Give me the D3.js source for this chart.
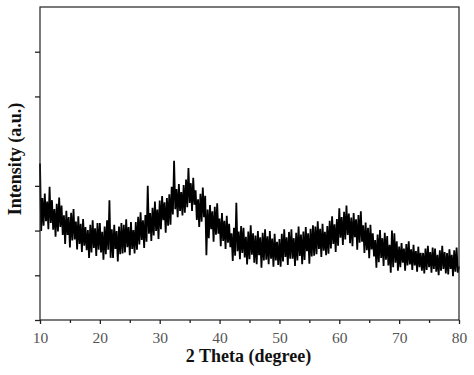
<!DOCTYPE html>
<html>
<head>
<meta charset="utf-8">
<script src="https://cdn.jsdelivr.net/npm/d3@7"></script>
<style>
  body { margin: 0; background: #fff; }
  svg { display: block; }
  .tick-lab { font-family: "Liberation Serif", "Times New Roman", serif; font-size: 15.5px; fill: #555; }
  .ttl { font-family: "Liberation Serif", "Times New Roman", serif; font-size: 18px; font-weight: bold; fill: #111; }
</style>
</head>
<body>
<div id="chart"></div>
<script>
// xrd pattern, 2theta 10 -> 80, sampled every 0.2 deg

var startAngle = 10;
var stepAngle = 0.2;

// intensity, 10 points per 2 degrees
var intensity = [
  350, 199, 273, 211, 283, 221, 265, 203, 298, 217,   // 10-12
  268, 202, 248, 186, 260, 198, 274, 208, 256, 190,   // 12-14
  234, 170, 244, 190, 230, 162, 240, 178, 248, 180,   // 14-16
  220, 158, 232, 170, 215, 152, 226, 166, 208, 156,   // 16-18
  201, 139, 213, 151, 223, 161, 205, 143, 217, 157,   // 18-20
  217, 151, 197, 135, 209, 147, 223, 157, 268, 139,   // 20-22
  203, 139, 213, 159, 199, 131, 209, 147, 217, 149,   // 22-24
  213, 151, 225, 163, 208, 145, 219, 159, 201, 149,   // 24-26
  219, 157, 231, 169, 241, 179, 223, 161, 235, 175,   // 26-28
  300, 193, 239, 177, 251, 189, 265, 199, 247, 181,   // 28-30
  267, 203, 277, 223, 263, 195, 273, 211, 281, 213,   // 30-32
  298, 236, 356, 248, 293, 230, 304, 244, 286, 234,   // 32-34
  302, 240, 314, 252, 340, 262, 306, 244, 318, 258,   // 34-36
  290, 224, 270, 208, 282, 220, 296, 230, 278, 145,   // 36-38
  247, 183, 257, 203, 243, 175, 253, 191, 261, 193,   // 38-40
  227, 165, 239, 177, 222, 159, 233, 173, 215, 163,   // 40-42
  194, 132, 206, 144, 262, 154, 198, 136, 210, 150,   // 42-44
  206, 140, 186, 124, 198, 136, 212, 146, 194, 128,   // 44-46
  189, 125, 199, 145, 185, 117, 195, 133, 203, 135,   // 46-48
  187, 125, 199, 137, 182, 119, 193, 133, 175, 123,   // 48-50
  181, 119, 193, 131, 203, 141, 185, 123, 197, 137,   // 50-52
  203, 137, 183, 121, 195, 133, 209, 143, 191, 125,   // 52-54
  198, 134, 208, 154, 194, 126, 204, 142, 212, 144,   // 54-56
  209, 147, 221, 159, 204, 141, 215, 155, 197, 145,   // 56-58
  210, 148, 222, 160, 232, 170, 214, 152, 226, 166,   // 58-60
  250, 184, 230, 168, 242, 180, 256, 190, 238, 172,   // 60-62
  229, 165, 239, 185, 225, 157, 235, 173, 243, 175,   // 62-64
  212, 150, 218, 156, 206, 138, 213, 158, 194, 142,   // 64-66
  179, 117, 191, 129, 201, 139, 183, 121, 195, 135,   // 66-68
  188, 122, 168, 106, 200, 118, 194, 128, 176, 110,   // 68-70
  164, 118, 172, 128, 160, 110, 170, 122, 176, 124,   // 70-72
  158, 112, 168, 122, 154, 108, 164, 118, 150, 110,   // 72-74
  150, 104, 160, 112, 166, 118, 152, 106, 162, 114,   // 74-76
  160, 108, 146, 100, 156, 110, 166, 114, 152, 104,   // 76-78
  150, 102, 158, 114, 146, 98, 156, 108, 162, 106,    // 78-80
  120
];

var xMajor = [10, 20, 30, 40, 50, 60, 70, 80];
var xMinor = [15, 25, 35, 45, 55, 65, 75];
var yTicks = [0, 100, 200, 300, 500, 600];   // no tick at 400 in the original

var xTitle = "2 Theta (degree)";
var yTitle = "Intensity (a.u.)";

(function () {
  "use strict";

  var W = 474, H = 375;
  var m = {top: 7, right: 15, bottom: 55, left: 40};
  var w = W - m.left - m.right, h = H - m.top - m.bottom;

  var svg = d3.select("#chart").append("svg")
    .attr("width", W).attr("height", H);

  var g = svg.append("g").attr("transform", "translate(" + m.left + "," + m.top + ")");

  var x = d3.scaleLinear().domain([10, 80]).range([0, w]);
  var y = d3.scaleLinear().domain([0, 700]).range([h, 0]);

  var pts = intensity.map(function (v, i) {
    return {a: startAngle + i * stepAngle, v: v};
  });

  // the pattern - thick stroke so the noise reads as a solid band
  var line = d3.line()
    .x(function (d) { return x(d.a); })
    .y(function (d) { return y(d.v); });

  g.append("path")
    .datum(pts)
    .attr("fill", "none")
    .attr("stroke", "#000")
    .attr("stroke-width", 1.8)
    .attr("stroke-linejoin", "bevel")
    .attr("d", line);

  // frame
  g.append("rect")
    .attr("width", w).attr("height", h)
    .attr("fill", "none").attr("stroke", "#222").attr("stroke-width", 1.2);

  // bottom axis
  var xAx = g.append("g").attr("transform", "translate(0," + h + ")")
    .call(d3.axisBottom(x).tickValues(xMajor).tickSize(4).tickFormat(d3.format("d")));
  xAx.select(".domain").remove();
  xAx.selectAll("line").attr("stroke", "#222").attr("stroke-width", 1.3);
  xAx.selectAll("text").attr("class", "tick-lab").attr("dy", null).attr("y", 23).attr("fill", null);

  var xMin = g.append("g").attr("transform", "translate(0," + h + ")")
    .call(d3.axisBottom(x).tickValues(xMinor).tickSize(3).tickFormat(""));
  xMin.select(".domain").remove();
  xMin.selectAll("line").attr("stroke", "#222").attr("stroke-width", 1.3);

  // left axis, ticks only
  var yAx = g.append("g")
    .call(d3.axisLeft(y).tickValues(yTicks).tickSize(5).tickFormat(""));
  yAx.select(".domain").remove();
  yAx.selectAll("line").attr("stroke", "#222").attr("stroke-width", 1.3);

  // titles
  svg.append("text").attr("class", "ttl")
    .attr("x", m.left + w / 2 - 1).attr("y", 362)
    .attr("text-anchor", "middle")
    .text(xTitle);

  svg.append("text").attr("class", "ttl")
    .attr("transform", "translate(21,159) rotate(-90)")
    .attr("text-anchor", "middle")
    .text(yTitle);
})();
</script>
</body>
</html>
